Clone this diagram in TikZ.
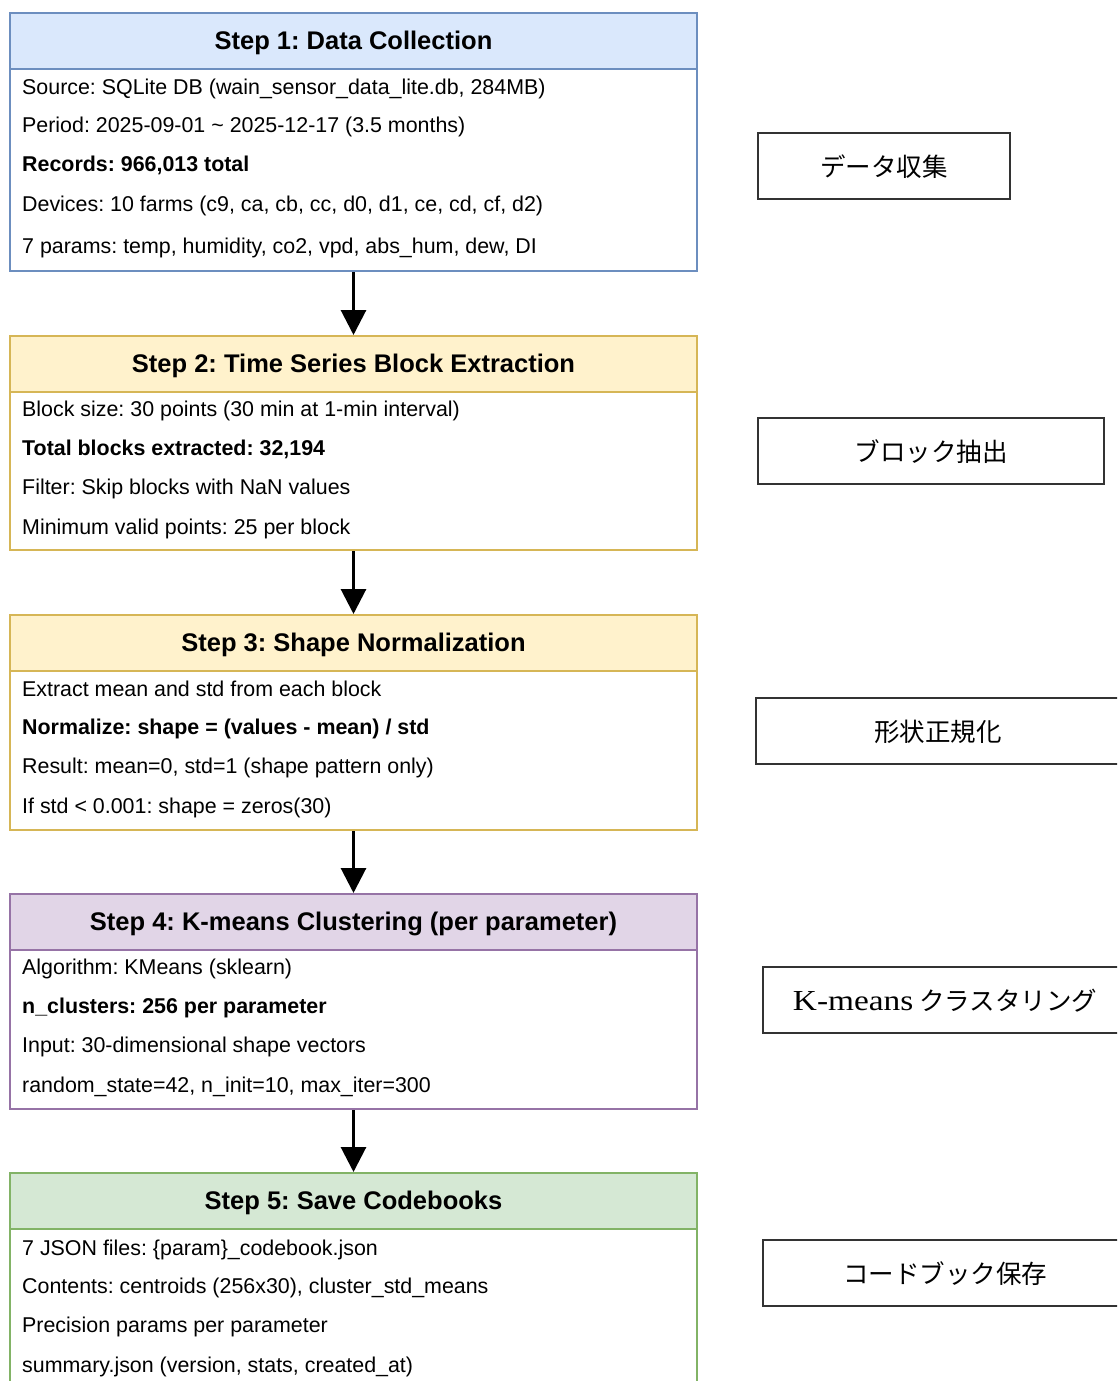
\documentclass[tikz,border=0pt]{standalone}
\usepackage{fontspec}
\setmainfont{Liberation Sans}
\newfontfamily\jpfont{Noto Sans CJK JP}
\newfontfamily\latinserif[FakeStretch=1.15]{Liberation Serif}
\usetikzlibrary{arrows.meta}
\frenchspacing

\definecolor{bluefill}{HTML}{DAE8FC}\definecolor{blueline}{HTML}{6C8EBF}
\definecolor{yelfill}{HTML}{FFF2CC}\definecolor{yelline}{HTML}{D6B656}
\definecolor{purfill}{HTML}{E1D5E7}\definecolor{purline}{HTML}{9673A6}
\definecolor{grnfill}{HTML}{D5E8D4}\definecolor{grnline}{HTML}{82B366}
\definecolor{labelline}{HTML}{333333}

\tikzset{
  stepbox/.style={draw, line width=2pt, fill=white, anchor=north west,
    minimum width=687pt, inner sep=0pt},
  headbox/.style={draw, line width=2pt, anchor=north west,
    minimum width=687pt, minimum height=56pt, inner sep=0pt},
  headtext/.style={font=\fontsize{25.5}{30}\selectfont\bfseries, inner sep=0pt, yshift=-2pt},
  bodytext/.style={font=\fontsize{21.4}{25}\selectfont, anchor=base west, inner sep=0pt},
  labelbox/.style={draw=labelline, line width=1.3pt, fill=white,
    minimum height=66pt, inner sep=0pt},
  labeltext/.style={font=\jpfont\fontsize{25.5}{30}\selectfont, yshift=-1pt},
  flow/.style={line width=3pt, -{Triangle[width=25pt,length=25pt]}},
}

\begin{document}
\begin{tikzpicture}[x=1pt,y=-1pt]
\useasboundingbox (0,0) rectangle (1117,1381);
\clip (0,0) rectangle (1117,1381);

% ---- Step 1 ----
\node[stepbox, draw=blueline, minimum height=258pt] (s1) at (9,12) {};
\node[headbox, draw=blueline, fill=bluefill] (h1) at (9,12) {};
\node[headtext] (t1) at (h1.center) {Step 1: Data Collection};
\node[bodytext] (b1a) at (22,95)  {Source: SQLite DB (wain\_sensor\_data\_lite.db, 284MB)};
\node[bodytext] (b1b) at (22,132) {Period: 2025-09-01 \textasciitilde{} 2025-12-17 (3.5 months)};
\node[bodytext] (b1c) at (22,171) {\bfseries Records: 966,013 total};
\node[bodytext] (b1d) at (22,211) {Devices: 10 farms (c9, ca, cb, cc, d0, d1, ce, cd, cf, d2)};
\node[bodytext] (b1e) at (22,253) {7 params: temp, humidity, co2, vpd, abs\_hum, dew, DI};

% ---- Step 2 ----
\node[stepbox, draw=yelline, minimum height=214pt] (s2) at (9,335) {};
\node[headbox, draw=yelline, fill=yelfill] (h2) at (9,335) {};
\node[headtext] (t2) at (h2.center) {Step 2: Time Series Block Extraction};
\node[bodytext] (b2a) at (22,416) {Block size: 30 points (30 min at 1-min interval)};
\node[bodytext] (b2b) at (22,455) {\bfseries Total blocks extracted: 32,194};
\node[bodytext] (b2c) at (22,494) {Filter: Skip blocks with NaN values};
\node[bodytext] (b2d) at (22,534) {Minimum valid points: 25 per block};

% ---- Step 3 ----
\node[stepbox, draw=yelline, minimum height=215pt] (s3) at (9,614) {};
\node[headbox, draw=yelline, fill=yelfill] (h3) at (9,614) {};
\node[headtext] (t3) at (h3.center) {Step 3: Shape Normalization};
\node[bodytext] (b3a) at (22,696) {Extract mean and std from each block};
\node[bodytext] (b3b) at (22,734) {\bfseries Normalize: shape = (values - mean) / std};
\node[bodytext] (b3c) at (22,773) {Result: mean=0, std=1 (shape pattern only)};
\node[bodytext] (b3d) at (22,813) {If std < 0.001: shape = zeros(30)};

% ---- Step 4 ----
\node[stepbox, draw=purline, minimum height=215pt] (s4) at (9,893) {};
\node[headbox, draw=purline, fill=purfill] (h4) at (9,893) {};
\node[headtext] (t4) at (h4.center) {Step 4: K-means Clustering (per parameter)};
\node[bodytext] (b4a) at (22,974)  {Algorithm: KMeans (sklearn)};
\node[bodytext] (b4b) at (22,1013) {\bfseries n\_clusters: 256 per parameter};
\node[bodytext] (b4c) at (22,1052) {Input: 30-dimensional shape vectors};
\node[bodytext] (b4d) at (22,1092) {random\_state=42, n\_init=10, max\_iter=300};

% ---- Step 5 ----
\node[stepbox, draw=grnline, minimum height=240pt] (s5) at (9,1172) {};
\node[headbox, draw=grnline, fill=grnfill] (h5) at (9,1172) {};
\node[headtext] (t5) at (h5.center) {Step 5: Save Codebooks};
\node[bodytext] (b5a) at (22,1255) {7 JSON files: \{param\}\_codebook.json};
\node[bodytext] (b5b) at (22,1293) {Contents: centroids (256x30), cluster\_std\_means};
\node[bodytext] (b5c) at (22,1332) {Precision params per parameter};
\node[bodytext] (b5d) at (22,1372) {summary.json (version, stats, created\_at)};

% ---- flow between steps ----
\draw[flow] (s1.south) -- (h2.north);
\draw[flow] (s2.south) -- (h3.north);
\draw[flow] (s3.south) -- (h4.north);
\draw[flow] (s4.south) -- (h5.north);

% ---- Japanese summary labels ----
\node[labelbox, minimum width=252pt] (j1) at (884,166) {};
\node[labeltext] (j1t) at (j1.center) {データ収集};
\node[labelbox, minimum width=346pt] (j2) at (931,451) {};
\node[labeltext] (j2t) at (j2.center) {ブロック抽出};
\node[labelbox, minimum width=364pt] (j3) at (938,731) {};
\node[labeltext] (j3t) at (j3.center) {形状正規化};
\node[labelbox, minimum width=364pt] (j4) at (945,1000) {};
\node[labeltext] (j4t) at (j4.center) {{\latinserif\fontsize{29}{32}\selectfont K-means} クラスタリング};
\node[labelbox, minimum width=364pt] (j5) at (945,1273) {};
\node[labeltext] (j5t) at (j5.center) {コードブック保存};
\end{tikzpicture}
\end{document}
